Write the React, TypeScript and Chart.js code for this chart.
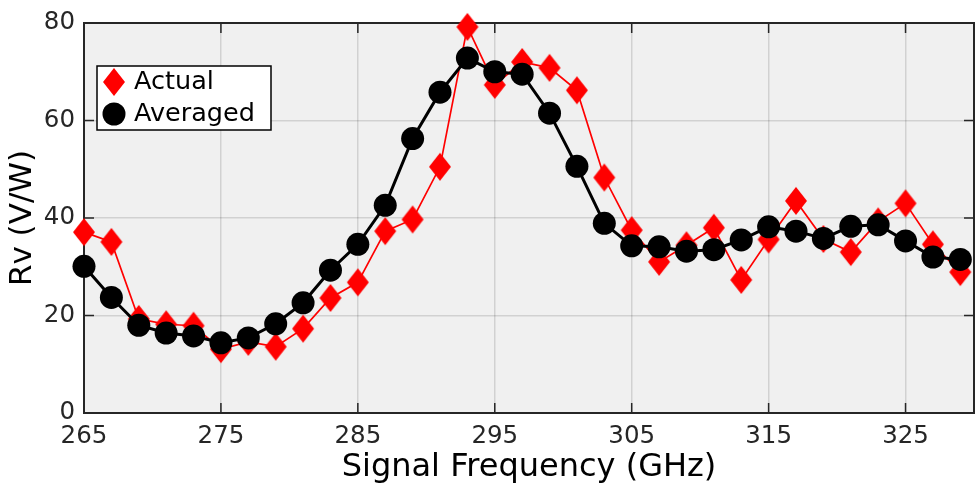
import { useEffect, useRef } from "react";
import { Chart, registerables } from "chart.js";

Chart.register(...registerables);

const frequencies = [265, 267, 269, 271, 273, 275, 277, 279, 281, 283, 285, 287, 289, 291, 293, 295, 297, 299, 301, 303, 305, 307, 309, 311, 313, 315, 317, 319, 321, 323, 325, 327, 329];
const actual = [37.1, 35.1, 19.3, 18.2, 17.9, 13.1, 14.6, 13.6, 17.3, 23.6, 26.8, 37.3, 39.7, 50.5, 79.2, 67.3, 72.0, 70.8, 66.2, 48.3, 37.5, 31.0, 34.4, 38.0, 27.3, 35.6, 43.5, 35.7, 33.0, 39.3, 43.0, 34.6, 28.9];
const averaged = [30.1, 23.7, 18.0, 16.4, 15.8, 14.4, 15.4, 18.3, 22.6, 29.3, 34.6, 42.6, 56.3, 65.8, 72.8, 70.0, 69.5, 61.5, 50.6, 38.9, 34.3, 34.1, 33.2, 33.5, 35.5, 38.2, 37.3, 35.8, 38.3, 38.6, 35.3, 32.0, 31.5];
const xTicks = [265, 275, 285, 295, 305, 315, 325];
const yTicks = [0, 20, 40, 60, 80];
const legendLabels = ["Actual", "Averaged"];

const FONT = "'DejaVu Sans', sans-serif";
const TEXT = "#262626";

function makeDiamond(): HTMLCanvasElement {
  const c = document.createElement("canvas");
  c.width = 24;
  c.height = 30;
  const g = c.getContext("2d")!;
  g.fillStyle = "#ff0000";
  g.beginPath();
  g.moveTo(12, 1);
  g.lineTo(23, 15);
  g.lineTo(12, 29);
  g.lineTo(1, 15);
  g.closePath();
  g.fill();
  return c;
}

export default function App() {
  const ref = useRef<HTMLCanvasElement | null>(null);

  useEffect(() => {
    document.body.style.margin = "0";
    const canvas = ref.current!;
    const diamond = makeDiamond();

    const frame = {
      id: "frame",
      beforeDraw(chart: any) {
        const { ctx, chartArea: a } = chart;
        ctx.save();
        ctx.fillStyle = "#f0f0f0";
        ctx.fillRect(a.left, a.top, a.right - a.left, a.bottom - a.top);
        ctx.restore();
      },
      beforeDatasetsDraw(chart: any) {
        const { ctx, chartArea: a, scales } = chart;
        ctx.save();
        ctx.strokeStyle = TEXT;
        ctx.lineWidth = 1.5;
        const tl = 10;
        ctx.beginPath();
        for (const t of scales.x.ticks) {
          const px = scales.x.getPixelForValue(t.value);
          ctx.moveTo(px, a.bottom);
          ctx.lineTo(px, a.bottom - tl);
          ctx.moveTo(px, a.top);
          ctx.lineTo(px, a.top + tl);
        }
        for (const t of scales.y.ticks) {
          const py = scales.y.getPixelForValue(t.value);
          ctx.moveTo(a.left, py);
          ctx.lineTo(a.left + tl, py);
          ctx.moveTo(a.right, py);
          ctx.lineTo(a.right - tl, py);
        }
        ctx.stroke();
        ctx.lineWidth = 2;
        ctx.strokeRect(a.left, a.top, a.right - a.left, a.bottom - a.top);
        ctx.restore();
      },
      afterDraw(chart: any) {
        const { ctx } = chart;
        ctx.save();
        const bx = 97, by = 66, bw = 174, bh = 64;
        ctx.fillStyle = "#ffffff";
        ctx.fillRect(bx, by, bw, bh);
        ctx.strokeStyle = "#000000";
        ctx.lineWidth = 1.5;
        ctx.strokeRect(bx, by, bw, bh);
        ctx.drawImage(diamond, 114 - 12, 82 - 15);
        ctx.fillStyle = "#000000";
        ctx.beginPath();
        ctx.arc(114, 114, 11.5, 0, Math.PI * 2);
        ctx.fill();
        ctx.fillStyle = "#000000";
        ctx.font = `25.5px ${FONT}`;
        ctx.textBaseline = "middle";
        ctx.textAlign = "left";
        ctx.fillText(legendLabels[0], 134, 82);
        ctx.fillText(legendLabels[1], 134, 114);
        ctx.restore();
      },
    };

    const chart = new Chart(canvas, {
      type: "scatter",
      data: {
        datasets: [
          {
            label: legendLabels[0],
            data: frequencies.map((f, i) => ({ x: f, y: actual[i] })),
            showLine: true,
            borderColor: "#ff0000",
            borderWidth: 1.7,
            pointStyle: diamond as any,
            pointRadius: 12,
            backgroundColor: "#ff0000",
            clip: false as any,
            order: 2,
          },
          {
            label: legendLabels[1],
            data: frequencies.map((f, i) => ({ x: f, y: averaged[i] })),
            showLine: true,
            borderColor: "#000000",
            borderWidth: 3,
            pointStyle: "circle",
            pointRadius: 11.5,
            pointBorderWidth: 0,
            backgroundColor: "#000000",
            pointBackgroundColor: "#000000",
            clip: false as any,
            order: 1,
          },
        ],
      },
      options: {
        responsive: false,
        animation: false,
        devicePixelRatio: 1,
        layout: { autoPadding: false, padding: { top: 23, right: 3, left: 0, bottom: 0 } } as any,
        plugins: { legend: { display: false }, tooltip: { enabled: false } },
        scales: {
          x: {
            type: "linear",
            min: 265,
            max: 330,
            afterBuildTicks: (s: any) => {
              s.ticks = xTicks.map((v) => ({ value: v }));
            },
            afterFit: (s: any) => {
              s.height = 77;
              s.paddingLeft = 0;
              s.paddingRight = 0;
            },
            grid: { color: "rgba(0,0,0,0.13)", lineWidth: 1.5, drawTicks: false },
            border: { display: false },
            ticks: { color: TEXT, font: { family: FONT, size: 24.5 }, padding: 9, maxRotation: 0, autoSkip: false },
            title: { display: true, text: "Signal Frequency (GHz)", color: "#000", font: { family: FONT, size: 32 }, padding: { top: 0, bottom: 3 } },
          },
          y: {
            type: "linear",
            min: 0,
            max: 80,
            afterBuildTicks: (s: any) => {
              s.ticks = yTicks.map((v) => ({ value: v }));
            },
            afterFit: (s: any) => {
              s.width = 84;
              s.paddingTop = 0;
              s.paddingBottom = 0;
            },
            grid: { color: "rgba(0,0,0,0.13)", lineWidth: 1.5, drawTicks: false },
            border: { display: false },
            ticks: { color: TEXT, font: { family: FONT, size: 24.5 }, padding: 9, autoSkip: false },
            title: { display: true, text: "Rv (V/W)", color: "#000", font: { family: FONT, size: 31 }, padding: { top: 4, bottom: 0 } },
          },
        },
      },
      plugins: [frame],
    });
    return () => chart.destroy();
  }, []);

  return (
    <div style={{ width: 977, height: 490 }}>
      <canvas ref={ref} width={977} height={490} style={{ display: "block" }} />
    </div>
  );
}
